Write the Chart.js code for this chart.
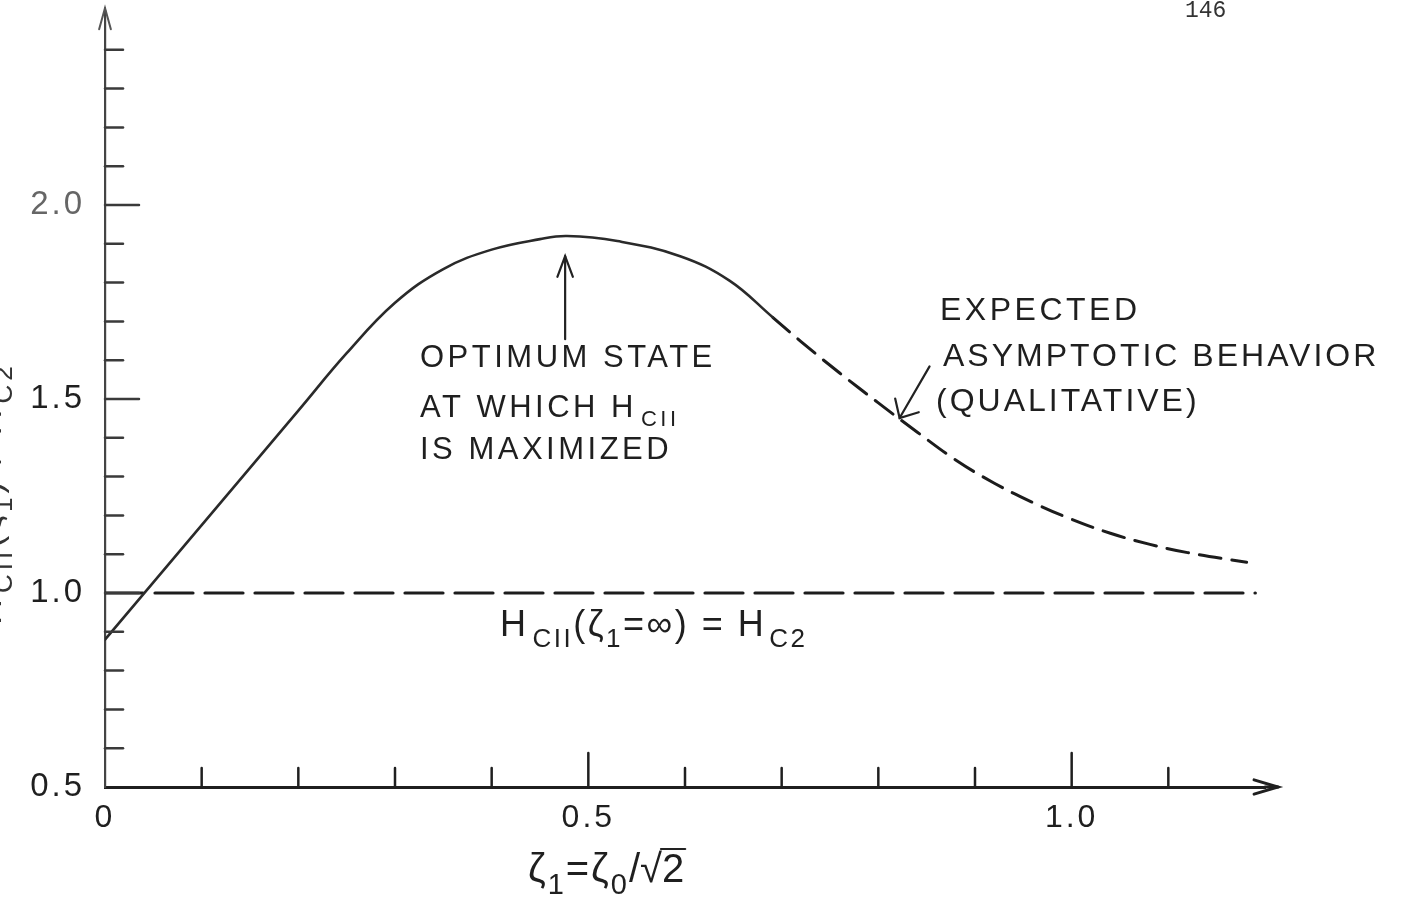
<!DOCTYPE html>
<html>
<head>
<meta charset="utf-8">
<script src="https://cdn.jsdelivr.net/npm/chart.js@4"></script>
<style>
  html, body { margin: 0; padding: 0; background: #fff; }
  #wrap { width: 1411px; height: 905px; position: relative; }
</style>
</head>
<body>
<div id="wrap"><canvas id="c" width="1411" height="905"></canvas></div>
<script>
// Computed H_CII / H_C2 versus zeta_1 (solid part)
const solidX = [0, 0.1, 0.2, 0.25, 0.3, 0.35, 0.4, 0.45, 0.478, 0.53, 0.595, 0.646, 0.691];
const solidY = [0.88, 1.175, 1.47, 1.618, 1.748, 1.835, 1.885, 1.912, 1.92, 1.907, 1.868, 1.805, 1.71];

// Expected asymptotic behaviour (qualitative, dashed)
const asymX = [0.691, 0.72, 0.76, 0.80, 0.84, 0.88, 0.92, 0.96, 1.00, 1.04, 1.08, 1.12, 1.181];
const asymY = [1.71, 1.648, 1.567, 1.49, 1.415, 1.343, 1.283, 1.233, 1.19, 1.154, 1.126, 1.104, 1.079];

// Limit H_CII(zeta_1 = inf) = H_C2
const limitX = [0, 1.19];
const limitY = [1.0, 1.0];

// Axis labels and tick marks
const xLabelValues = [0, 0.5, 1.0];
const xLabelText = ['0', '0.5', '1.0'];
const yLabelValues = [0.5, 1.0, 1.5, 2.0];
const yLabelText = ['0.5', '1.0', '1.5', '2.0'];
const xMarks = [0.1, 0.2, 0.3, 0.4, 0.5, 0.6, 0.7, 0.8, 0.9, 1.0, 1.1];
const xMajorMarks = [0.5, 1.0];
const yMarks = [0.6, 0.7, 0.8, 0.9, 1.0, 1.1, 1.2, 1.3, 1.4, 1.5, 1.6, 1.7, 1.8, 1.9, 2.0, 2.1, 2.2, 2.3, 2.4];
const yMajorMarks = [1.0, 1.5, 2.0];

// Annotation anchors (data coordinates)
const peakArrow = { x: 0.476, from: 1.654, to: 1.868 };
const asymArrow = { fromX: 0.853, fromY: 1.584, toX: 0.822, toY: 1.451 };

const FONT = '"Liberation Sans", Arial, sans-serif';
const INK = '#1f1f1f';

const pts = (xs, ys) => xs.map((v, i) => ({ x: v, y: ys[i] }));

// Draw a run of text pieces, some of them subscripts
function drawRich(ctx, x, y, pieces, size, spacing) {
  let cx = x;
  pieces.forEach(p => {
    const s = p.sub ? Math.round(size * 0.72) : size;
    ctx.font = s + 'px ' + FONT;
    ctx.letterSpacing = spacing + 'px';
    const dy = p.sub ? size * 0.3 : 0;
    ctx.fillText(p.t, cx, y + dy);
    cx += ctx.measureText(p.t).width + (p.gap || 0);
  });
  return cx;
}

function arrowHead(ctx, tx, ty, fx, fy, len, ang) {
  const a = Math.atan2(fy - ty, fx - tx);
  ctx.beginPath();
  ctx.moveTo(tx + len * Math.cos(a + ang), ty + len * Math.sin(a + ang));
  ctx.lineTo(tx, ty);
  ctx.lineTo(tx + len * Math.cos(a - ang), ty + len * Math.sin(a - ang));
  ctx.stroke();
}

function seg(ctx, x1, y1, x2, y2) {
  ctx.beginPath(); ctx.moveTo(x1, y1); ctx.lineTo(x2, y2); ctx.stroke();
}

const overlay = {
  id: 'overlay',
  beforeDraw(chart) {
    chart.ctx.letterSpacing = '3px';
  },
  afterDatasetsDraw(chart) {
    const { ctx, chartArea: a, scales: { x, y } } = chart;
    ctx.save();
    ctx.lineCap = 'round';

    // inward tick marks
    ctx.strokeStyle = '#3a3a3a';
    ctx.lineWidth = 2.5;
    yMarks.forEach(v => {
      const py = y.getPixelForValue(v);
      const len = yMajorMarks.includes(v) ? 34 : 18;
      seg(ctx, a.left, py, a.left + len, py);
    });
    ctx.strokeStyle = '#1f1f1f';
    xMarks.forEach(v => {
      const px = x.getPixelForValue(v);
      const len = xMajorMarks.includes(v) ? 34 : 19;
      seg(ctx, px, a.bottom, px, a.bottom - len);
    });

    // axis arrows
    ctx.strokeStyle = '#555';
    ctx.lineWidth = 2;
    seg(ctx, a.left, a.top, a.left, a.top - 3);
    arrowHead(ctx, a.left, a.top - 3, a.left, a.top + 40, 22, 0.27);
    ctx.strokeStyle = '#1f1f1f';
    ctx.lineWidth = 3;
    seg(ctx, a.right, a.bottom, a.right + 13, a.bottom);
    arrowHead(ctx, a.right + 13, a.bottom, a.right - 40, a.bottom, 25, 0.29);

    // annotation arrows
    ctx.strokeStyle = '#222';
    ctx.lineWidth = 2.2;
    const px = x.getPixelForValue(peakArrow.x);
    const p1 = y.getPixelForValue(peakArrow.from), p2 = y.getPixelForValue(peakArrow.to);
    seg(ctx, px, p1, px, p2);
    arrowHead(ctx, px, p2, px, p1, 22, 0.36);
    const ax1 = x.getPixelForValue(asymArrow.fromX), ay1 = y.getPixelForValue(asymArrow.fromY);
    const ax2 = x.getPixelForValue(asymArrow.toX), ay2 = y.getPixelForValue(asymArrow.toY);
    seg(ctx, ax1, ay1, ax2, ay2);
    arrowHead(ctx, ax2, ay2, ax1, ay1, 20, 0.75);

    // annotation texts
    ctx.fillStyle = INK;
    ctx.textBaseline = 'alphabetic';
    ctx.textAlign = 'left';
    const S = 31, LS = 3.5;
    drawRich(ctx, 420, 367, [{ t: 'OPTIMUM STATE' }], S, LS);
    drawRich(ctx, 420, 417, [{ t: 'AT WHICH H', gap: 4 }, { t: 'CII', sub: true }], S, LS);
    drawRich(ctx, 420, 459, [{ t: 'IS MAXIMIZED' }], S, LS);
    drawRich(ctx, 940, 320, [{ t: 'EXPECTED' }], 32, LS);
    drawRich(ctx, 943, 366, [{ t: 'ASYMPTOTIC BEHAVIOR' }], 32, 3);
    drawRich(ctx, 936, 411, [{ t: '(QUALITATIVE)' }], 32, 3);

    drawRich(ctx, 500, 636, [
      { t: 'H', gap: 4 }, { t: 'CII', sub: true }, { t: '(ζ' }, { t: '1', sub: true },
      { t: '=∞) = H', gap: 3 }, { t: 'C2', sub: true }
    ], 36, 2.5);

    // x-axis title: zeta_1 = zeta_0 / sqrt(2)
    let cx = drawRich(ctx, 528, 882, [
      { t: 'ζ' }, { t: '1', sub: true }, { t: '=' }, { t: 'ζ' }, { t: '0', sub: true }, { t: '/' }
    ], 40, 2);
    ctx.font = '40px ' + FONT;
    ctx.letterSpacing = '0px';
    ctx.fillText('√', cx - 2, 882);
    const rw = ctx.measureText('√').width;
    ctx.fillText('2', cx - 2 + rw, 882);
    const tw = ctx.measureText('2').width;
    ctx.lineWidth = 2.2;
    seg(ctx, cx - 2 + rw - 1, 849, cx - 2 + rw + tw + 1, 849);

    // y-axis title, rotated (runs off the left edge)
    ctx.save();
    ctx.fillStyle = '#333';
    ctx.translate(1, 625);
    ctx.rotate(-Math.PI / 2);
    drawRich(ctx, 0, 0, [
      { t: 'H', gap: 2 }, { t: 'CII', sub: true }, { t: '(ζ' }, { t: '1', sub: true },
      { t: ') / H', gap: 2 }, { t: 'C2', sub: true }
    ], 36, 4);
    ctx.restore();

    // page number
    ctx.fillStyle = '#333';
    ctx.font = '23px "Liberation Mono", monospace';
    ctx.letterSpacing = '0px';
    ctx.fillText('146', 1185, 17);

    ctx.restore();
  }
};

Chart.defaults.font.family = FONT;

new Chart(document.getElementById('c'), {
  type: 'scatter',
  data: {
    datasets: [
      {
        data: pts(solidX, solidY),
        showLine: true, borderColor: '#2a2a2a', borderWidth: 2.6,
        pointRadius: 0, tension: 0.4, borderCapStyle: 'round'
      },
      {
        data: pts(asymX, asymY),
        showLine: true, borderColor: '#1c1c1c', borderWidth: 3,
        borderDash: [22, 11], pointRadius: 0, tension: 0.4, borderCapStyle: 'round'
      },
      {
        data: pts(limitX, limitY),
        showLine: true, borderColor: '#1c1c1c', borderWidth: 3.2,
        borderDash: [38, 12], pointRadius: 0, borderCapStyle: 'round'
      }
    ]
  },
  options: {
    responsive: false,
    animation: false,
    devicePixelRatio: 1,
    layout: { padding: { top: 11, right: 146, left: 0, bottom: 0 } },
    plugins: { legend: { display: false }, tooltip: { enabled: false } },
    scales: {
      x: {
        type: 'linear', min: 0, max: 1.2,
        afterFit: s => { s.height = 118; s.paddingLeft = 0; s.paddingRight = 0; },
        afterBuildTicks: s => { s.ticks = xLabelValues.map(v => ({ value: v })); },
        grid: { display: false, drawTicks: false },
        border: { display: true, color: '#1f1f1f', width: 3 },
        ticks: {
          autoSkip: false, maxRotation: 0, padding: 12,
          color: INK, font: { size: 32 },
          callback: v => { const i = xLabelValues.indexOf(v); return i >= 0 ? xLabelText[i] : ''; }
        }
      },
      y: {
        type: 'linear', min: 0.5, max: 2.5,
        afterFit: s => { s.width = 105; s.paddingTop = 0; s.paddingBottom = 0; },
        afterBuildTicks: s => { s.ticks = yLabelValues.map(v => ({ value: v })); },
        grid: { display: false, drawTicks: false },
        border: { display: true, color: '#444', width: 2.2 },
        ticks: {
          autoSkip: false, padding: 20,
          color: c => (c.tick && c.tick.value === 2.0) ? '#666' : INK,
          font: { size: 33 },
          callback: v => { const i = yLabelValues.indexOf(v); return i >= 0 ? yLabelText[i] : ''; }
        }
      }
    }
  },
  plugins: [overlay]
});
</script>
</body>
</html>
